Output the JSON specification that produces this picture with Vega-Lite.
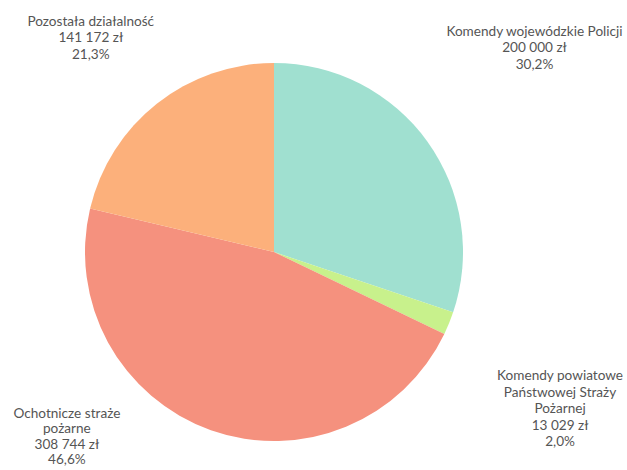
{
  "$schema": "https://vega.github.io/schema/vega-lite/v6.json",
  "width": 548,
  "height": 436,
  "autosize": {"type": "none"},
  "padding": {"left": 0, "top": 34, "right": 79, "bottom": 0},
  "background": "white",
  "view": {"stroke": null},
  "config": {"text": {"font": "Lato", "fontSize": 13.6, "color": "#555555", "lineBreak": "\n", "lineHeight": 16.5}},
  "data": {"values": [
    {"o": 1, "name": "Komendy wojewódzkie Policji", "value": 200000, "label": "Komendy wojewódzkie Policji\n200 000 zł\n30,2%"},
    {"o": 2, "name": "Komendy powiatowe Państwowej Straży Pożarnej", "value": 13029, "label": "Komendy powiatowe\nPaństwowej Straży\nPożarnej\n13 029 zł\n2,0%"},
    {"o": 3, "name": "Ochotnicze straże pożarne", "value": 308744, "label": "Ochotnicze straże\npożarne\n308 744 zł\n46,6%"},
    {"o": 4, "name": "Pozostała działalność", "value": 141172, "label": "Pozostała działalność\n141 172 zł\n21,3%"}
  ]},
  "encoding": {
    "theta": {"field": "value", "type": "quantitative", "stack": true},
    "order": {"field": "o", "type": "ordinal"}
  },
  "layer": [
    {
      "mark": {"type": "arc", "outerRadius": 189},
      "encoding": {
        "color": {
          "field": "name", "type": "nominal", "legend": null,
          "scale": {
            "domain": ["Komendy wojewódzkie Policji", "Komendy powiatowe Państwowej Straży Pożarnej", "Ochotnicze straże pożarne", "Pozostała działalność"],
            "range": ["#a0e0d0", "#c8f18c", "#f5917e", "#fcb07b"]
          }
        }
      }
    },
    {
      "mark": {"type": "text", "radius": 189, "dx": 107, "dy": -117, "baseline": "top", "align": "center"},
      "encoding": {"detail": {"field": "name"}, "text": {"condition": {"test": "datum.o == 1", "field": "label"}, "value": ""}}
    },
    {
      "mark": {"type": "text", "radius": 189, "dx": 111, "dy": 46, "baseline": "top", "align": "center"},
      "encoding": {"detail": {"field": "name"}, "text": {"condition": {"test": "datum.o == 2", "field": "label"}, "value": ""}}
    },
    {
      "mark": {"type": "text", "radius": 189, "dx": -144, "dy": -23, "baseline": "top", "align": "center", "lineHeight": 15.2},
      "encoding": {"detail": {"field": "name"}, "text": {"condition": {"test": "datum.o == 3", "field": "label"}, "value": ""}}
    },
    {
      "mark": {"type": "text", "radius": 189, "dx": -66, "dy": -89, "baseline": "top", "align": "center"},
      "encoding": {"detail": {"field": "name"}, "text": {"condition": {"test": "datum.o == 4", "field": "label"}, "value": ""}}
    }
  ]
}
